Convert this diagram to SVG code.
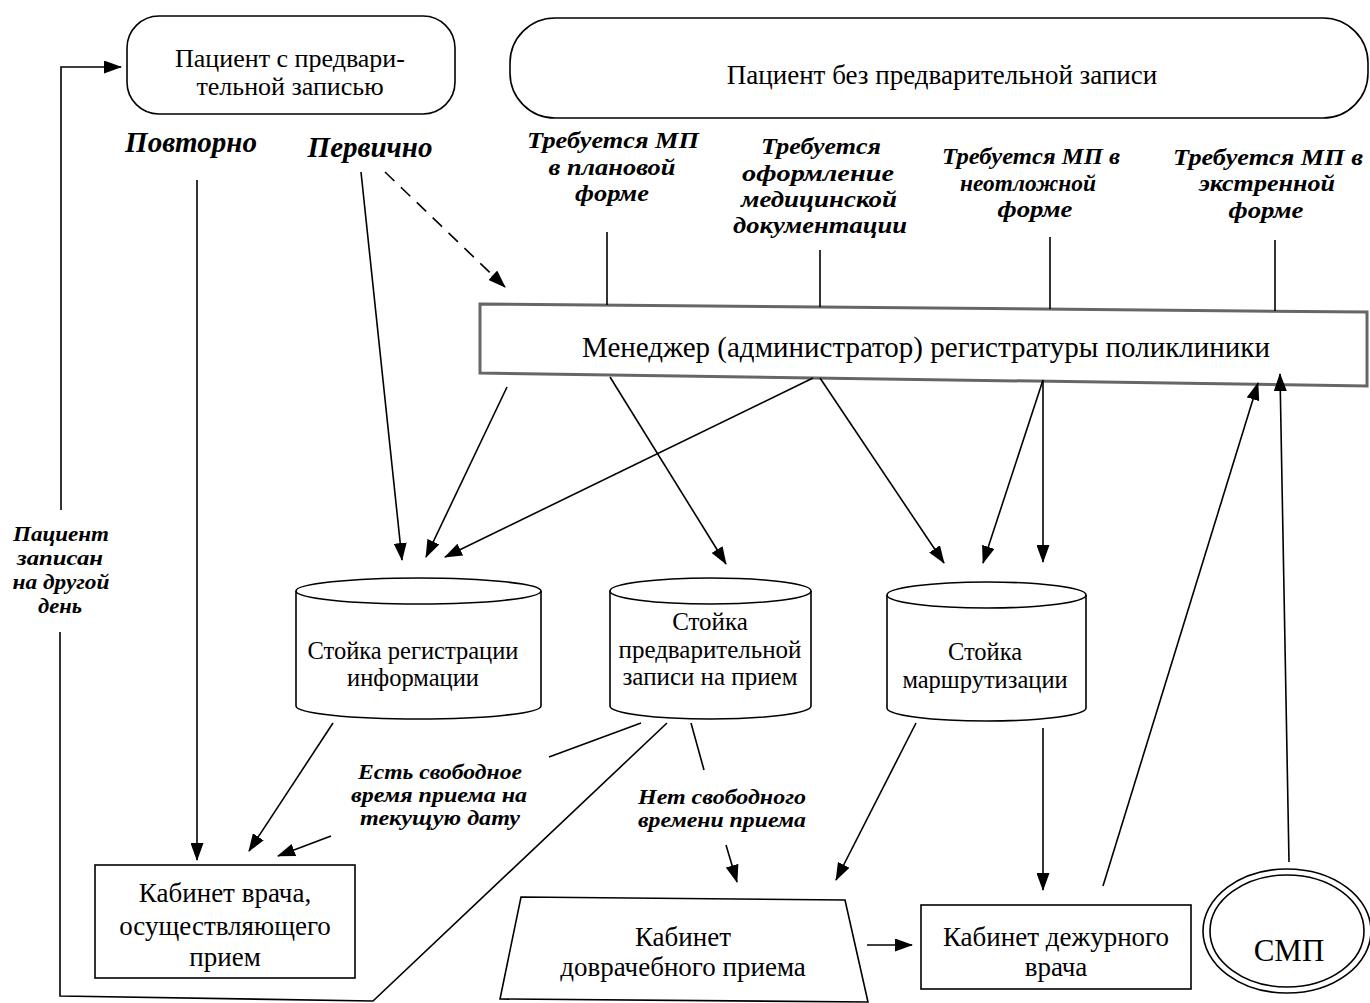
<svg xmlns="http://www.w3.org/2000/svg" width="1370" height="1003" viewBox="0 0 1370 1003">
<defs>
<marker id="ah" markerUnits="userSpaceOnUse" markerWidth="18" markerHeight="13" refX="17" refY="6.5" orient="auto">
<path d="M0,0 L18,6.5 L0,13 z" fill="#000"/>
</marker>
<style>
.n{fill:#fff;stroke:#000;stroke-width:1.6}
.t{font-family:"Liberation Serif","DejaVu Serif",serif;text-anchor:middle;fill:#000}
.l{font-family:"Liberation Serif","DejaVu Serif",serif;font-weight:bold;font-style:italic;text-anchor:middle;fill:#000}
.u{font-size:23px}
.b{font-size:20px}
.c{fill:none;stroke:#000;stroke-width:1.6}
.a{fill:none;stroke:#000;stroke-width:1.6;marker-end:url(#ah)}
</style>
</defs>
<rect width="1370" height="1003" fill="#fff"/>

<g id="patient-prior">
<rect class="n" x="127" y="16" width="328" height="98" rx="32" ry="32"/>
<text class="t" x="290" y="67" style="font-size:26px">Пациент с предвари-</text>
<text class="t" x="290" y="95" style="font-size:26px">тельной записью</text>
</g>

<g id="patient-noprior">
<rect class="n" x="510" y="18" width="858" height="100" rx="45" ry="45"/>
<text class="t" x="942" y="84" style="font-size:27px">Пациент без предварительной записи</text>
</g>

<g id="labels">
<text class="l" x="191" y="152" style="font-size:29px">Повторно</text>
<text class="l" x="370" y="157" style="font-size:29px">Первично</text>
<text class="l u" x="613" y="148" textLength="172" lengthAdjust="spacingAndGlyphs">Требуется МП</text>
<text class="l u" x="612" y="175" textLength="127" lengthAdjust="spacingAndGlyphs">в плановой</text>
<text class="l u" x="612" y="201" textLength="74" lengthAdjust="spacingAndGlyphs">форме</text>
<text class="l u" x="821" y="154" textLength="120" lengthAdjust="spacingAndGlyphs">Требуется</text>
<text class="l u" x="818" y="181" textLength="152" lengthAdjust="spacingAndGlyphs">оформление</text>
<text class="l u" x="819" y="207" textLength="156" lengthAdjust="spacingAndGlyphs">медицинской</text>
<text class="l u" x="820" y="233" textLength="174" lengthAdjust="spacingAndGlyphs">документации</text>
<text class="l u" x="1031" y="164" textLength="178" lengthAdjust="spacingAndGlyphs">Требуется МП в</text>
<text class="l u" x="1028" y="191" textLength="136" lengthAdjust="spacingAndGlyphs">неотложной</text>
<text class="l u" x="1035" y="217" textLength="75" lengthAdjust="spacingAndGlyphs">форме</text>
<text class="l u" x="1268" y="165" textLength="190" lengthAdjust="spacingAndGlyphs">Требуется МП в</text>
<text class="l u" x="1267" y="191" textLength="136" lengthAdjust="spacingAndGlyphs">экстренной</text>
<text class="l u" x="1266" y="218" textLength="75" lengthAdjust="spacingAndGlyphs">форме</text>
<text class="l b" x="61" y="541" textLength="96" lengthAdjust="spacingAndGlyphs">Пациент</text>
<text class="l b" x="60" y="565" textLength="86" lengthAdjust="spacingAndGlyphs">записан</text>
<text class="l b" x="61" y="589" textLength="97" lengthAdjust="spacingAndGlyphs">на другой</text>
<text class="l b" x="60" y="613" textLength="44" lengthAdjust="spacingAndGlyphs">день</text>
<text class="l b" x="440" y="779" textLength="164" lengthAdjust="spacingAndGlyphs">Есть свободное</text>
<text class="l b" x="439" y="802" textLength="176" lengthAdjust="spacingAndGlyphs">время приема на</text>
<text class="l b" x="440" y="825" textLength="160" lengthAdjust="spacingAndGlyphs">текущую дату</text>
<text class="l b" x="722" y="804" textLength="168" lengthAdjust="spacingAndGlyphs">Нет свободного</text>
<text class="l b" x="722" y="827" textLength="168" lengthAdjust="spacingAndGlyphs">времени приема</text>
</g>

<g id="manager">
<polygon points="480,304 1367,312 1367,386 480,373" fill="#fff" stroke="#666" stroke-width="3"/>
<text class="t" x="926" y="357" style="font-size:29px">Менеджер (администратор) регистратуры поликлиники</text>
</g>

<g id="desk-registration">
<path class="n" d="M296,591 A122.5,13 0 0 1 541,591 V706 A122.5,13 0 0 1 296,706 Z"/>
<path class="c" d="M296,591 A122.5,13 0 0 0 541,591"/>
<text class="t" x="413" y="659" style="font-size:24.5px">Стойка регистрации</text>
<text class="t" x="413" y="686" style="font-size:24.5px">информации</text>
</g>

<g id="desk-appointment">
<path class="n" d="M610,591 A100.5,13 0 0 1 811,591 V706 A100.5,13 0 0 1 610,706 Z"/>
<path class="c" d="M610,591 A100.5,13 0 0 0 811,591"/>
<text class="t" x="710" y="630" style="font-size:25px">Стойка</text>
<text class="t" x="710" y="658" style="font-size:25px">предварительной</text>
<text class="t" x="710" y="685" style="font-size:25px">записи на прием</text>
</g>

<g id="desk-routing">
<path class="n" d="M887,595 A99.5,13 0 0 1 1086,595 V708 A99.5,13 0 0 1 887,708 Z"/>
<path class="c" d="M887,595 A99.5,13 0 0 0 1086,595"/>
<text class="t" x="985" y="660" style="font-size:24.5px">Стойка</text>
<text class="t" x="985" y="688" style="font-size:24.5px">маршрутизации</text>
</g>

<g id="doctor-office">
<rect class="n" x="95" y="865" width="260" height="113"/>
<text class="t" x="225" y="902" style="font-size:27px">Кабинет врача,</text>
<text class="t" x="225" y="935" style="font-size:27px">осуществляющего</text>
<text class="t" x="225" y="966" style="font-size:27px">прием</text>
</g>

<g id="prephysician-office">
<polygon class="n" points="521,897 845,900 868,1002 500,999"/>
<text class="t" x="683" y="946" style="font-size:27px">Кабинет</text>
<text class="t" x="683" y="976" style="font-size:27px">доврачебного приема</text>
</g>

<g id="duty-office">
<rect class="n" x="921" y="905" width="270" height="84"/>
<text class="t" x="1056" y="946" style="font-size:27px">Кабинет дежурного</text>
<text class="t" x="1056" y="976" style="font-size:27px">врача</text>
</g>

<g id="smp">
<ellipse class="n" cx="1287" cy="931" rx="84" ry="62"/>
<ellipse class="c" cx="1287" cy="931" rx="77" ry="56"/>
<text class="t" x="1289" y="961" style="font-size:31px">СМП</text>
</g>

<g id="connectors">
<line class="a" x1="197" y1="180" x2="197" y2="860"/>
<line class="a" x1="361" y1="172" x2="402" y2="560"/>
<line class="a" x1="385" y1="172" x2="505" y2="287" stroke-dasharray="13,9"/>
<line class="c" x1="607" y1="232" x2="607" y2="305"/>
<line class="c" x1="820" y1="250" x2="820" y2="307"/>
<line class="c" x1="1050" y1="237" x2="1050" y2="309"/>
<line class="c" x1="1275" y1="240" x2="1275" y2="311"/>
<line class="a" x1="507" y1="387" x2="426" y2="557"/>
<line class="a" x1="813" y1="378" x2="445" y2="557"/>
<line class="a" x1="610" y1="377" x2="726" y2="564"/>
<line class="a" x1="820" y1="378" x2="944" y2="563"/>
<line class="a" x1="1043" y1="380" x2="983" y2="563"/>
<line class="a" x1="1043" y1="380" x2="1043" y2="562"/>
<line class="a" x1="1103" y1="886" x2="1258" y2="383"/>
<line class="a" x1="1289" y1="862" x2="1280" y2="374"/>
<line class="a" x1="333" y1="723" x2="249" y2="851"/>
<line class="c" x1="641" y1="723" x2="549" y2="757"/>
<line class="a" x1="331" y1="836" x2="278" y2="856"/>
<line class="c" x1="691" y1="723" x2="704" y2="770"/>
<line class="a" x1="726" y1="845" x2="737" y2="882"/>
<line class="a" x1="916" y1="723" x2="836" y2="880"/>
<line class="a" x1="1043" y1="728" x2="1043" y2="890"/>
<line class="a" x1="867" y1="945" x2="912" y2="945"/>
<polyline class="c" points="667,723 373,1001 60,996 60,632"/>
<polyline class="a" points="61,510 61,67 121,67"/>
</g>
</svg>
